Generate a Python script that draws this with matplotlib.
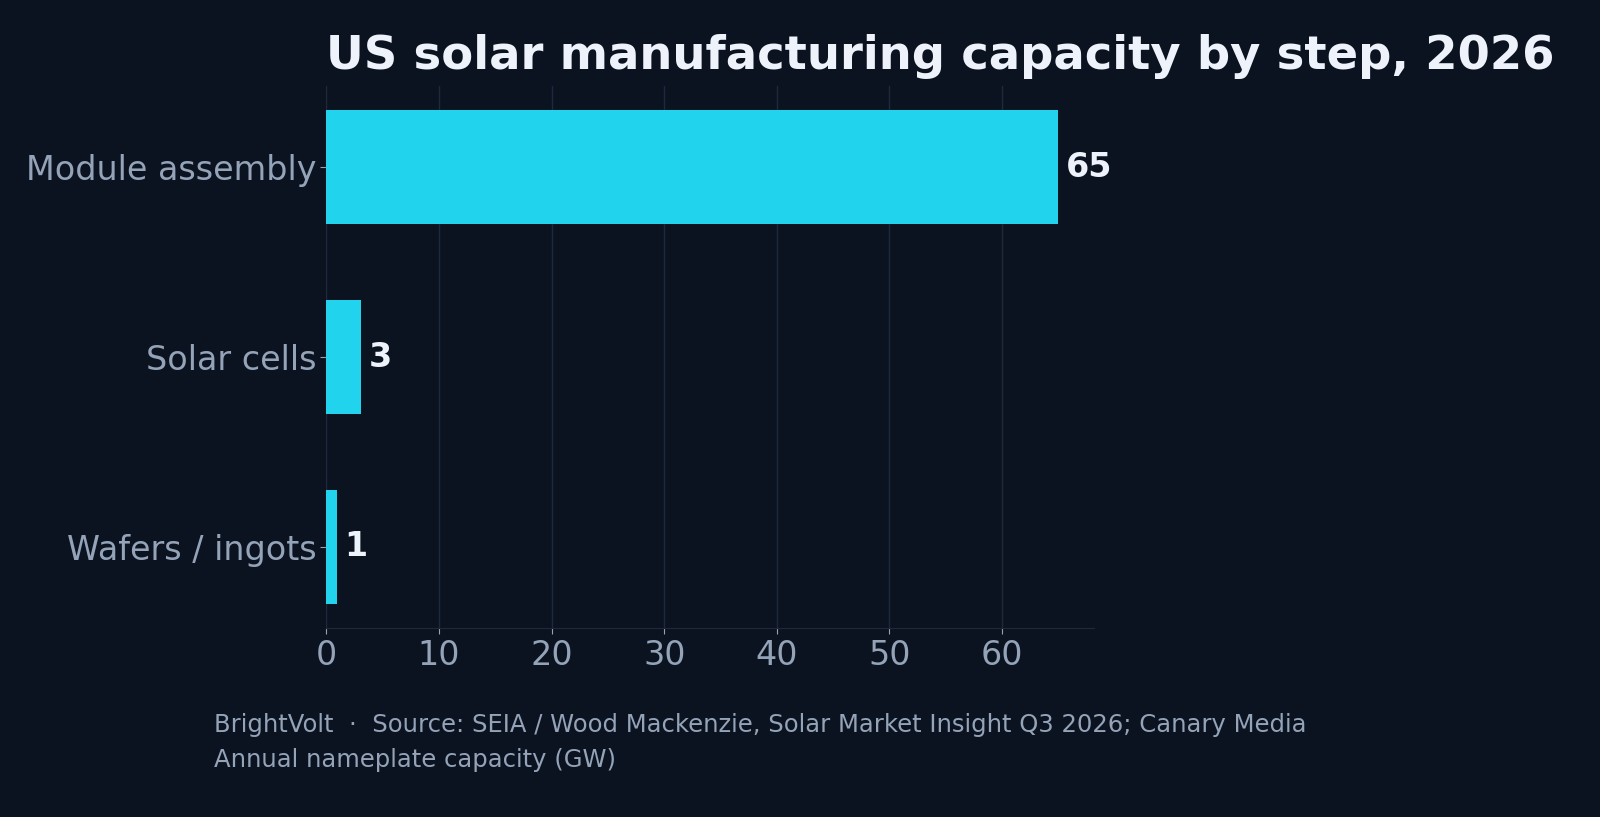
import matplotlib
matplotlib.use("Agg")
import matplotlib.pyplot as plt

categories = ["Module assembly", "Solar cells", "Wafers / ingots"]
capacity_gw = [65, 3.1, 0.9]
value_labels = ["65", "3", "1"]

bg = "#0b1320"
bar_color = "#22d3ee"
muted = "#94a3b8"
title_color = "#eef2fa"
grid_color = "#1e293b"

fig = plt.figure(figsize=(16, 8.17), dpi=100, facecolor=bg)
ax = fig.add_axes([0.204, 0.231, 0.48, 0.664], facecolor=bg)

y = list(range(len(categories)))[::-1]
ax.barh(y, capacity_gw, height=0.6, color=bar_color, zorder=3)
for yi, v, lab in zip(y, capacity_gw, value_labels):
    ax.text(v + 0.7, yi, lab, va="center", ha="left", color=title_color,
            fontsize=24, fontweight="bold", zorder=4)

ax.set_yticks(y)
ax.set_yticklabels(categories)
ax.set_xlim(0, 68.2)
ax.set_ylim(-0.43, 2.43)
ax.set_xticks(range(0, 70, 10))
ax.tick_params(axis="both", colors=muted, labelsize=24, length=4)
ax.tick_params(axis="y", pad=3)
ax.grid(axis="x", color=grid_color, linewidth=1, zorder=0)
for s in ["top", "right"]:
    ax.spines[s].set_visible(False)
for s in ["left", "bottom"]:
    ax.spines[s].set_color(grid_color)

ax.set_title("US solar manufacturing capacity by step, 2026", loc="left",
             color=title_color, fontsize=33.5, fontweight="bold", pad=12)

fig.text(0.134, 0.112, "BrightVolt  ·  Source: SEIA / Wood Mackenzie, Solar Market Insight Q3 2026; Canary Media",
         color=muted, fontsize=17.5, va="center", family="DejaVu Sans")
fig.text(0.134, 0.070, "Annual nameplate capacity (GW)", color=muted, fontsize=17.5, va="center",
         family="DejaVu Sans")

fig.savefig("out.png", dpi=100, facecolor=bg)
